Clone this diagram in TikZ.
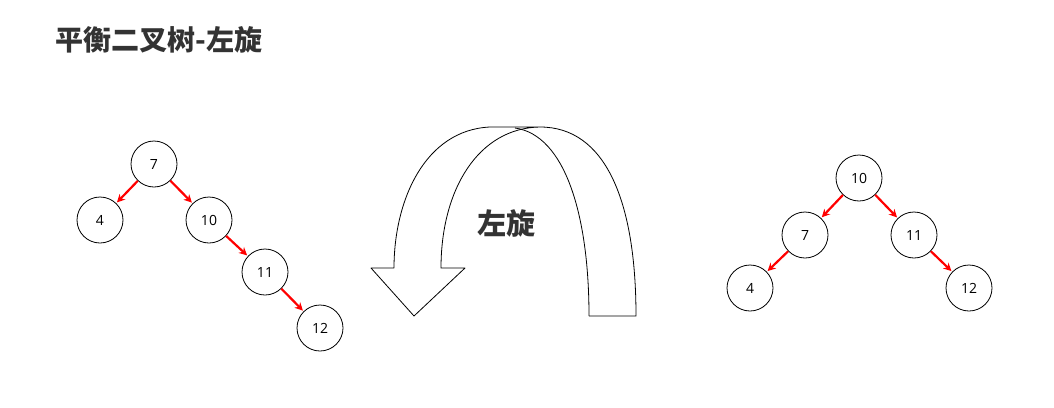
\documentclass[tikz,border=0pt]{standalone}
\usepackage{fontspec}
\setmainfont{Open Sans}
\newfontfamily\cjk{Noto Sans CJK SC}
\usetikzlibrary{arrows.meta}
\begin{document}
\begin{tikzpicture}[x=1pt,y=-1pt,
  nd/.style={circle,draw,thick,minimum size=46pt,inner sep=0pt,font=\fontsize{14}{14}\selectfont},
  ed/.style={red,line width=2.2pt,-{Stealth[length=8pt,width=8pt]},shorten >=1pt}]
\useasboundingbox (0,0) rectangle (1054,407);
\node[anchor=west,text=black!80,font=\cjk\bfseries\fontsize{28}{28}\selectfont] (t) at (52,40) {平衡二叉树-左旋};
\node (a7) [nd] at (154,164) {7};
\node (a4) [nd] at (100,220) {4};
\node (a10) [nd] at (209,220) {10};
\node (a11) [nd] at (265,272) {11};
\node (a12) [nd] at (320,328) {12};
\draw[ed] (a7) -- (a4); \draw[ed] (a7) -- (a10);
\draw[ed] (a10) -- (a11); \draw[ed] (a11) -- (a12);
\node (b10) [nd] at (859,178) {10};
\node (b7) [nd] at (805,235) {7};
\node (b11) [nd] at (914,235) {11};
\node (b4) [nd] at (750,288) {4};
\node (b12) [nd] at (969,288) {12};
\draw[ed] (b10) -- (b7); \draw[ed] (b10) -- (b11);
\draw[ed] (b7) -- (b4); \draw[ed] (b11) -- (b12);
\draw[thick,line join=round,fill=white] (589,316) -- (636,316) .. controls (636,200) and (605,127) .. (540,127) -- (490,127)
  .. controls (425,130) and (394,200) .. (394,268) -- (371,268) -- (414,316) -- (465,268) -- (441,268)
  .. controls (441,190) and (478,128) .. (540,127);
\draw[thick] (589,316) .. controls (589,215) and (565,135) .. (515,128);
\node[text=black!80,font=\cjk\bfseries\fontsize{29}{29}\selectfont] (l) at (506,223) {左旋};
\end{tikzpicture}
\end{document}
